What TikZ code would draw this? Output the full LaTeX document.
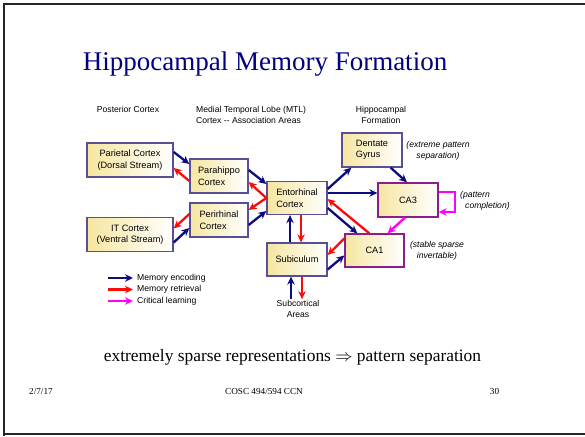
\documentclass[tikz,border=0pt]{standalone}
\usepackage{fontspec}
\setmainfont{Liberation Serif}
\newfontfamily\arialf{Liberation Sans}
\usetikzlibrary{arrows.meta,calc}
\definecolor{encblue}{RGB}{12,12,130}
\definecolor{retred}{RGB}{255,10,10}
\definecolor{critmag}{RGB}{255,0,255}
\definecolor{boxedge}{RGB}{90,78,150}
\definecolor{hipedge}{RGB}{140,30,140}
\definecolor{boxfill}{RGB}{246,230,160}
\definecolor{titleblue}{RGB}{0,0,128}
\tikzset{
  region/.style={draw=boxedge, line width=1.3pt, left color=boxfill, right color=white,
    minimum width=60pt, minimum height=34pt, inner sep=1pt,
    font=\arialf\fontsize{9.2}{11.5}\selectfont},
  hipbox/.style={region, draw=hipedge},
  lbl/.style={font=\arialf\fontsize{8.6}{11}\selectfont, inner sep=0pt},
  note/.style={font=\arialf\itshape\fontsize{8.6}{11}\selectfont, inner sep=0pt},
  enc/.style={draw=encblue, line width=2.3pt, -{Stealth[length=8pt,width=7.5pt]}},
  ret/.style={draw=retred, line width=2.3pt, -{Stealth[length=8pt,width=7.5pt]}},
  crit/.style={draw=critmag, line width=2.3pt, -{Stealth[length=8pt,width=7.5pt]}},
}
\begin{document}
\begin{tikzpicture}[x=1pt,y=-1pt]
\useasboundingbox (0,0) rectangle (585,436);
\fill[white] (0,0) rectangle (585,436);
\draw[line width=2pt, draw=black!85] (4,436) -- (4,4) -- (586,4);
\draw[line width=2pt, draw=black!85] (4,433.5) -- (586,433.5);

\node[text=titleblue, font=\fontsize{27}{30}\selectfont, inner sep=0pt] (title) at (265,64) {Hippocampal Memory Formation};

% column headers
\node[lbl] (hpost) at (128,109) {Posterior Cortex};
\node[lbl, align=left, anchor=west] (hmtl) at (196,114.5) {Medial Temporal Lobe (MTL)\\Cortex -- Association Areas};
\node[lbl, align=center] (hhip) at (381,114.5) {Hippocampal\\Formation};

% boxes
\node[region, minimum width=86pt, align=center] (par) at (130,160) {Parietal Cortex\\(Dorsal Stream)};
\node[region, minimum width=86pt, align=center] (itc) at (130,234.5) {IT Cortex\\(Ventral Stream)};
\node[region, minimum width=58pt, align=left] (php) at (219,176) {Parahippo\\Cortex};
\node[region, minimum width=58pt, align=left] (prh) at (219,220) {Perirhinal\\Cortex};
\node[region, minimum height=33pt, align=left] (ent) at (297,198) {Entorhinal\\Cortex};
\node[region, minimum height=33pt] (sub) at (297,259.5) {Subiculum};
\node[region, align=left] (dg) at (372,150) {Dentate\\Gyrus};
\node[hipbox] (ca3) at (408,200) {CA3};
\node[hipbox, minimum width=59pt, minimum height=33pt] (ca1) at (374.5,250.5) {CA1};

% notes
\node[note, align=center] (n1) at (438,151) {(extreme pattern\\separation)};
\node[note, align=left, anchor=west] (n2) at (460,201) {(pattern\\\hspace*{5pt}completion)};
\node[note, align=center] (n3) at (437,251) {(stable sparse\\invertable)};
\node[lbl, align=center] (subc) at (298,309) {Subcortical\\Areas};

% connectors
\draw[enc] ($(par.east)+(0,-8)$) -- ($(php.west)+(0,-12)$);
\draw[ret] ($(php.west)+(0,5)$) -- ($(par.east)+(0,8)$);
\draw[ret] ($(prh.west)+(0,-6)$) -- ($(itc.east)+(0,-6)$);
\draw[enc] ($(itc.east)+(0,8)$) -- ($(prh.west)+(0,8)$);
\draw[enc] ($(php.east)+(0,-6)$) -- ($(ent.west)+(0,-14)$);
\draw[ret] (ent.west) -- ($(php.east)+(0,6)$);
\draw[ret] (ent.west) -- ($(prh.east)+(0,-10)$);
\draw[enc] ($(prh.east)+(0,5)$) -- ($(ent.west)+(0,13)$);
\draw[enc] ($(ent.east)+(0,-9)$) -- ($(dg.south west)+(10,0)$);
\draw[enc] ($(dg.south east)+(-12,0)$) -- ($(ca3.north)+(-1,0)$);
\draw[enc] ($(ent.east)+(0,-5)$) -- ($(ca3.west)+(0,-7)$);
\draw[enc] ($(ent.east)+(0,10)$) -- ($(ca1.north west)+(13,0)$);
\draw[ret] ($(ca1.north west)+(25,0)$) -- ($(ent.east)+(0,1)$);
\draw[crit] ($(ca3.south)+(-3,0)$) -- ($(ca1.north)+(13,0)$);
\draw[crit] ($(ca3.east)+(0,-8)$) -- ++(16,0) -- ++(0,20) -- ($(ca3.east)+(0,12)$);
\draw[ret] ($(ca1.west)+(0,-12)$) -- ($(sub.east)+(0,-4.5)$);
\draw[enc] ($(sub.east)+(0,10)$) -- ($(ca1.west)+(0,5)$);
\draw[enc] ($(sub.north)+(-7,0)$) -- ($(ent.south)+(-7,0)$);
\draw[ret] ($(ent.south)+(4,0)$) -- ($(sub.north)+(4,0)$);
\draw[enc] ($(subc.north)+(-7,-1)$) -- ($(sub.south)+(-6,0)$);
\draw[ret] ($(sub.south)+(5,0)$) -- ($(subc.north)+(4,-1)$);

% legend
\node[lbl, anchor=west] (le1) at (137,278) {Memory encoding};
\node[lbl, anchor=west] (le2) at (137,289.5) {Memory retrieval};
\node[lbl, anchor=west] (le3) at (137,301) {Critical learning};
\coordinate (la1) at (108,278);
\coordinate (la2) at (108,289.5);
\coordinate (la3) at (108,301);
\draw[enc] (la1) -- ([xshift=-4pt]le1.west);
\draw[ret] (la2) -- ([xshift=-4pt]le2.west);
\draw[crit] (la3) -- ([xshift=-4pt]le3.west);

% bottom text and footer
\node[font=\fontsize{17.4}{20}\selectfont, inner sep=0pt] (claim) at (292.5,357) {extremely sparse representations $\Rightarrow$ pattern separation};
\node[font=\fontsize{9.2}{11}\selectfont, inner sep=0pt, anchor=west] (fdate) at (29,391) {2/7/17};
\node[font=\fontsize{9.2}{11}\selectfont, inner sep=0pt] (fcourse) at (264,391) {COSC 494/594 CCN};
\node[font=\fontsize{9.2}{11}\selectfont, inner sep=0pt] (fpage) at (494.5,391) {30};
\end{tikzpicture}
\end{document}
